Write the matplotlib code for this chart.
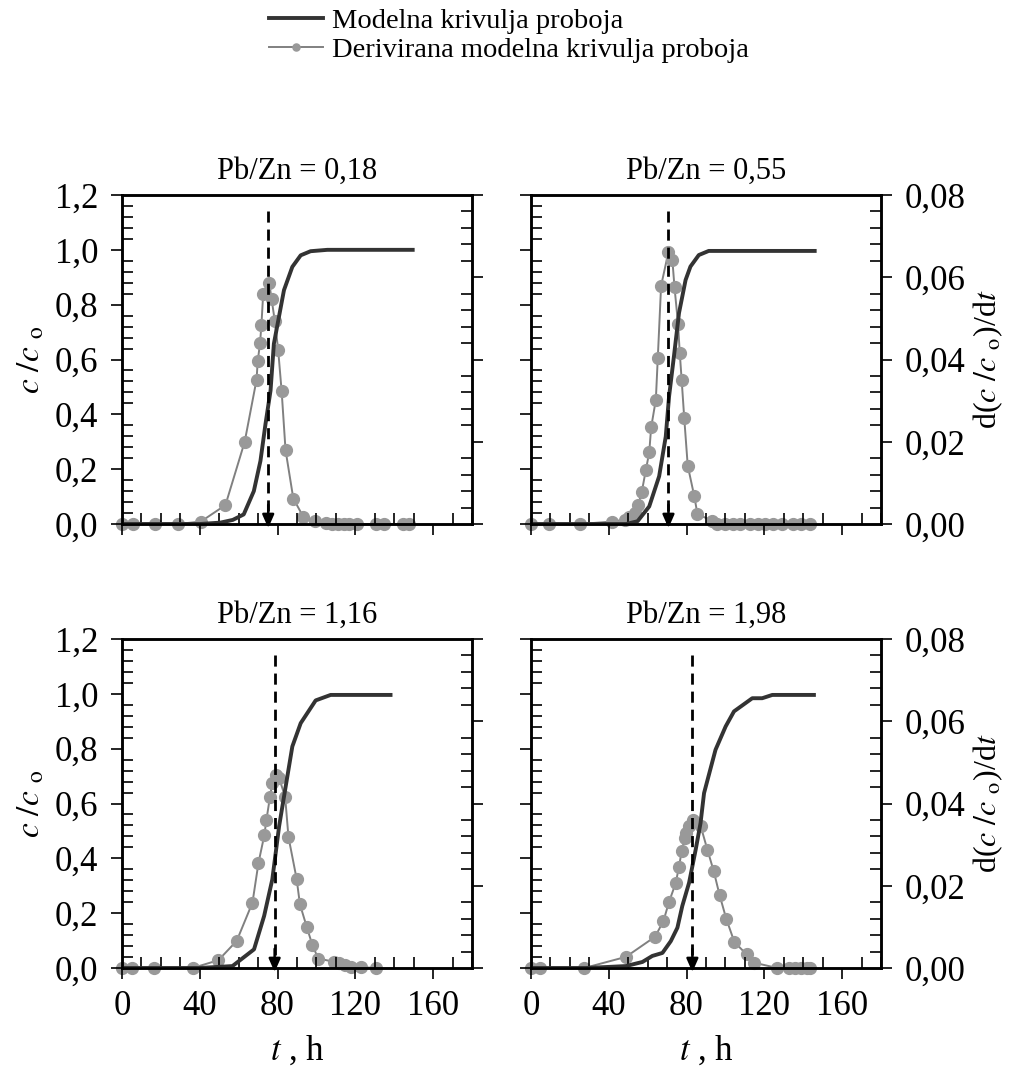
import numpy as np
import matplotlib
matplotlib.use("Agg")
import matplotlib.pyplot as plt
from matplotlib.ticker import MultipleLocator, FuncFormatter

plt.rcParams['font.family'] = ['Liberation Serif', 'DejaVu Serif']
plt.rcParams['mathtext.fontset'] = 'stix'

# --- data ---
titles = ["Pb/Zn = 0,18", "Pb/Zn = 0,55", "Pb/Zn = 1,16", "Pb/Zn = 1,98"]
t_peak = [75.2, 70.7, 78.5, 83.0]

# model breakthrough curves (c/c0)
t_c_018 = [0, 40, 50.6, 57, 62.6, 67.8, 71.2, 73.8, 76.4, 78.1, 80.7, 83.3, 87.6, 91.9, 97.0, 105.6, 149.5]
c_018 = [0, 0, 0.005, 0.015, 0.035, 0.12, 0.23, 0.365, 0.487, 0.657, 0.755, 0.853, 0.938, 0.98, 0.995, 1.0, 1.0]
t_c_055 = [0, 48.9, 54.8, 60.8, 65.9, 69.3, 71.0, 73.5, 76.1, 79.5, 82.0, 86.3, 91.4, 145.9]
c_055 = [0, 0, 0.01, 0.064, 0.174, 0.319, 0.465, 0.611, 0.769, 0.890, 0.939, 0.981, 0.996, 0.996]
t_c_116 = [0, 39.7, 56.8, 67.9, 73.1, 77.3, 80.8, 84.2, 87.6, 91.9, 99.6, 107.3, 138.1]
c_116 = [0, 0, 0.007, 0.068, 0.19, 0.323, 0.517, 0.663, 0.808, 0.893, 0.976, 0.996, 0.996]
t_c_198 = [0, 28.3, 48.8, 57.3, 62.4, 67.6, 71.9, 75.3, 77.8, 81.3, 84.7, 87.2, 89.0, 91.5,
           94.9, 100.1, 104.4, 113.8, 118.9, 124.1, 145.5]
c_198 = [0, 0, 0.007, 0.022, 0.044, 0.055, 0.098, 0.147, 0.226, 0.311, 0.432, 0.529, 0.638, 0.705,
         0.796, 0.881, 0.936, 0.984, 0.984, 0.996, 0.996]

# derived curves d(c/c0)/dt
t_d_018 = [0, 5.5, 17, 29, 40.6, 53.2, 63.1, 69.2, 69.8, 71.0, 71.7, 72.6, 75.7, 76.9, 78.6, 80.3,
           82.1, 84.1, 88.1, 93.3, 99.1, 104.8, 108, 111, 114, 117, 121, 130.6, 134.6, 144.4, 147.8]
d_018 = [0, 0, 0, 0, 0.0006, 0.0046, 0.020, 0.0351, 0.0396, 0.044, 0.0484, 0.0559, 0.0587, 0.0548,
         0.0493, 0.0424, 0.0323, 0.018, 0.0062, 0.0017, 0.0007, 0.0002, 0, 0, 0, 0, 0, 0, 0, 0, 0]
t_d_055 = [0, 9.1, 25.4, 41.7, 48.3, 50.5, 53.3, 55.2, 57.0, 59.1, 60.8, 61.8, 64.2, 65.2, 66.9,
           70.7, 72.7, 73.8, 75.6, 76.5, 77.5, 78.8, 80.6, 84.0, 85.6, 93.1, 95.7, 100, 104, 107.5,
           112.6, 116.9, 120.3, 124.6, 128.9, 134.8, 139, 143.3]
d_055 = [0, 0, 0, 0.0006, 0.001, 0.0018, 0.0027, 0.0047, 0.0079, 0.0132, 0.0174, 0.0235, 0.0302,
         0.0403, 0.0579, 0.0662, 0.0642, 0.0576, 0.0487, 0.0417, 0.0349, 0.0258, 0.0142, 0.0067,
         0.0024, 0.0008, 0, 0, 0, 0, 0, 0, 0, 0, 0, 0, 0, 0]
t_d_116 = [0, 5.1, 16.6, 36.3, 49.6, 59.0, 67.1, 70.2, 73.2, 74.3, 76.1, 77.3, 79.1, 80.8, 83.9,
           85.6, 89.8, 91.5, 95.0, 97.9, 100.9, 109.2, 111.6, 114.7, 117.6, 122.7, 130.8]
d_116 = [0, 0, 0, 0, 0.0019, 0.0066, 0.0159, 0.0256, 0.0323, 0.0361, 0.0416, 0.045, 0.047, 0.0462,
         0.0416, 0.0319, 0.0217, 0.0155, 0.010, 0.0056, 0.0023, 0.0015, 0.0011, 0.0008, 0.0002,
         0.0002, 0]
t_d_198 = [0, 4.6, 27.4, 48.8, 63.8, 68.1, 71.0, 74.4, 76.1, 77.5, 79.0, 79.9, 81.3, 83.3, 87.2,
           90.7, 94.0, 97.0, 100.4, 104.6, 110.9, 114.7, 126.6, 132.6, 136, 139.1, 142, 143.7]
d_198 = [0, 0, 0, 0.0027, 0.0076, 0.0114, 0.0161, 0.0206, 0.0246, 0.0284, 0.0315, 0.0329, 0.0345,
         0.0361, 0.0346, 0.0288, 0.0235, 0.0177, 0.012, 0.0063, 0.0033, 0.0013, 0, 0, 0, 0, 0, 0]

curves = [(t_c_018, c_018), (t_c_055, c_055), (t_c_116, c_116), (t_c_198, c_198)]
derivs = [(t_d_018, d_018), (t_d_055, d_055), (t_d_116, d_116), (t_d_198, d_198)]

W, H = 1015, 1079
fig = plt.figure(figsize=(W / 100, H / 100), dpi=100)

# axes boxes in pixels: left, top
boxes = [(122, 195), (531, 195), (122, 639), (531, 639)]
aw, ah = 350, 329

comma = lambda nd: FuncFormatter(lambda v, p: f"{v:.{nd}f}".replace('.', ','))
fs = 25
dark = '#333333'
gray = '#999999'

for i in range(4):
    lx, ty = boxes[i]
    ax = fig.add_axes([lx / W, 1 - (ty + ah) / H, aw / W, ah / H])
    ax2 = ax.twinx()
    ax.set_zorder(ax2.get_zorder() + 1)
    ax.patch.set_visible(False)

    td, dd = derivs[i]
    hd, = ax2.plot(td, dd, '-', color='#808080', lw=1.4, marker='o', ms=8.5,
                   mfc=gray, mec=gray, clip_on=False)
    tc, cc = curves[i]
    hc, = ax.plot(tc, cc, '-', color=dark, lw=2.8)

    tp = t_peak[i]
    ax.plot([tp, tp], [1.14, 0.04], '--', color='k', lw=2.0, dashes=(4, 2.5))
    ax.annotate('', xy=(tp, -0.015), xytext=(tp, 0.07),
                arrowprops=dict(arrowstyle='-|>,head_length=0.8,head_width=0.35',
                                color='k', lw=1.8, shrinkA=0, shrinkB=0),
                annotation_clip=False)

    ax.set_xlim(0, 180)
    ax.set_ylim(0, 1.2)
    ax2.set_ylim(0, 0.08)
    ax.xaxis.set_minor_locator(MultipleLocator(10))
    ax.set_xticks([0, 40, 80, 120, 160])
    ax.yaxis.set_major_locator(MultipleLocator(0.2))
    ax.yaxis.set_minor_locator(MultipleLocator(0.04))
    ax2.yaxis.set_major_locator(MultipleLocator(0.02))
    ax2.yaxis.set_minor_locator(MultipleLocator(0.004))
    ax.yaxis.set_major_formatter(comma(1))
    ax2.yaxis.set_major_formatter(comma(2))

    for a in (ax, ax2):
        a.tick_params(which='major', direction='out', length=8, width=1.2, labelsize=fs, pad=9)
        a.tick_params(which='minor', direction='in', length=8, width=1.2)
        for s in a.spines.values():
            s.set_linewidth(1.8)
    ax.tick_params(axis='x', which='both', top=False)
    ax.tick_params(axis='x', which='major', pad=8)
    ax2.tick_params(axis='x', which='both', top=False, bottom=False)

    if i % 2 == 0:
        ax.set_ylabel(r'$c\ /c\ _{\rm o}$', fontsize=24, labelpad=6)
        ax2.tick_params(axis='y', labelright=False)
    else:
        ax.tick_params(axis='y', labelleft=False)
        ax2.set_ylabel(r'd($c\ /c\ _{\rm o}$)/d$t$', fontsize=23, labelpad=4)
    if i >= 2:
        ax.set_xlabel(r'$t$ , h', fontsize=fs, labelpad=8)
    else:
        ax.tick_params(axis='x', labelbottom=False)
    ax.set_title(titles[i], fontsize=22, pad=12)

fig.legend([hc, hd], ['Modelna krivulja proboja', 'Derivirana modelna krivulja proboja'],
           loc='upper left', bbox_to_anchor=(252 / W, 1.008), frameon=False, fontsize=20.5,
           handlelength=1.9, handletextpad=0.3, labelspacing=0.1, markerscale=0.6,
           borderpad=0.1)

fig.savefig('out.png', dpi=100)
